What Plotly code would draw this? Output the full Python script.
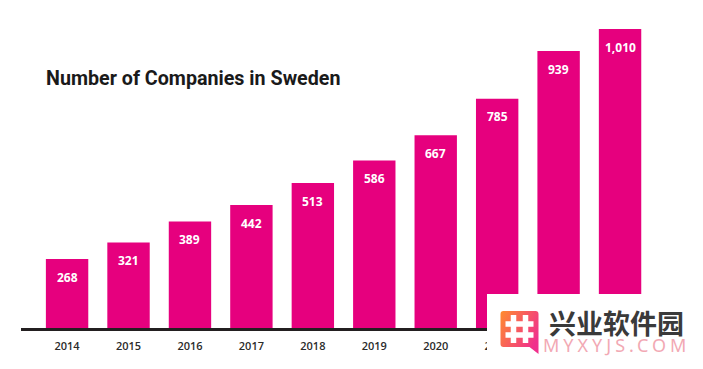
import base64
import plotly.graph_objects as go

years = ["2014", "2015", "2016", "2017", "2018", "2019", "2020", "2021", "2022", "2023"]
companies = [268, 321, 389, 442, 513, 586, 667, 785, 939, 1010]
title = "Number of Companies in Sweden"
wm_cn = "兴业软件园"
wm_en = "MYXYJS.COM"

W, H = 703, 369
PINK = "#E6007E"
L, R, T, B = 21, 652, 20, 328

# watermark backdrop + icon (drawn above the axis so it hides the last tick labels)
wm = """<svg xmlns='http://www.w3.org/2000/svg' width='216' height='75' viewBox='0 0 216 75'>
<defs><linearGradient id='g' x1='0' y1='0' x2='1' y2='0.6'><stop offset='0' stop-color='#FF8C2E'/><stop offset='1' stop-color='#F0308C'/></linearGradient></defs>
<rect width='216' height='75' fill='#fff'/>
<g transform='translate(13.5 17)'>
<path d='M3 0H35Q38 0 38 3V43L29 36H3Q0 36 0 33V3Q0 0 3 0Z' fill='url(#g)'/>
<g stroke='#fff' stroke-width='5.5' fill='none'><path d='M13 4V32M25 4V32M5 13H33M5 24H33'/></g></g></svg>"""
wm_uri = "data:image/svg+xml;base64," + base64.b64encode(wm.encode()).decode()

fig = go.Figure(go.Bar(x=years, y=companies, marker=dict(color=PINK, line_width=0), hoverinfo="skip"))


def px(x):
    return (x - L) / (R - L)


def py(y):
    return (B - y) / (B - T)


annotations = [
    dict(x=i, y=v, xref="x", yref="y", text=f"<b>{v:,}</b>", showarrow=False, yshift=-18,
         font=dict(family="Open Sans", size=12, color="white"))
    for i, v in enumerate(companies)
]
annotations += [
    dict(x=px(45), y=py(78), xref="paper", yref="paper", xanchor="left", yanchor="middle",
         text=f"<b>{title}</b>", showarrow=False, xshift=-1,
         font=dict(family="Roboto", size=19.7, color="#1a1a1a")),
    dict(x=px(616), y=py(322), xref="paper", yref="paper", xanchor="center", yanchor="middle",
         text=f"<b>{wm_cn}</b>", showarrow=False,
         font=dict(family="Noto Sans CJK SC", size=27, color="#3a3a3a")),
    dict(x=px(616), y=py(345), xref="paper", yref="paper", xanchor="center", yanchor="middle",
         text=wm_en, showarrow=False,
         font=dict(family="Noto Sans", size=18, color="#F2A9B4")),
]

fig.update_layout(
    width=W, height=H, autosize=False, bargap=0.31, showlegend=False,
    paper_bgcolor="white", plot_bgcolor="white",
    margin=dict(l=L, r=W - R, t=T, b=H - B),
    xaxis=dict(type="category", range=[-0.75, 9.52], showgrid=False, zeroline=False,
               showline=True, linecolor="#231f20", linewidth=3,
               ticks="outside", ticklen=6, tickcolor="rgba(0,0,0,0)",
               tickfont=dict(family="Open Sans", size=11, color="#2b2b2b", weight=600)),
    yaxis=dict(range=[45.4, 1010 + 9 / 0.31], visible=False),
    annotations=annotations,
    images=[dict(source=wm_uri, xref="paper", yref="paper", x=px(487), y=py(294),
                 sizex=216 / (R - L), sizey=75 / (B - T), xanchor="left", yanchor="top", sizing="stretch", layer="above")],
)
post = """document.body.style.margin='0';
document.querySelectorAll('.annotation-text').forEach(function(t){
  if(t.textContent==='%s'){t.style.letterSpacing='4px';}
});""" % wm_en
fig.write_html("out.html", config={"displayModeBar": False}, post_script=post)
